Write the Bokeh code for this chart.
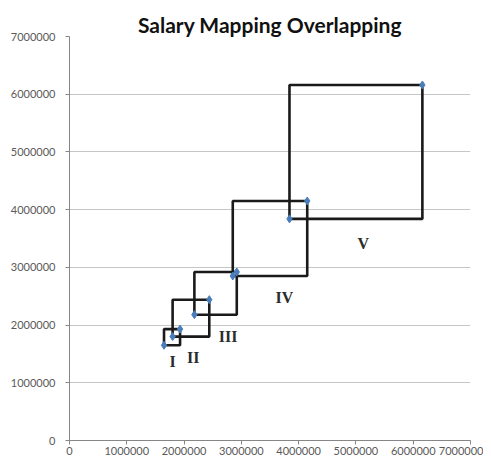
from bokeh.plotting import figure
from bokeh.models import ColumnDataSource, FixedTicker, BasicTickFormatter, Range1d
from bokeh.core.properties import value
from bokeh.embed import file_html
from bokeh.resources import INLINE

grades = ["I", "II", "III", "IV", "V"]
grade_min = [1650000, 1800000, 2180000, 2850000, 3840000]
grade_max = [1930000, 2440000, 2920000, 4150000, 6160000]
label_x = [1800000, 2160000, 2770000, 3750000, 5130000]
label_y = [1370000, 1440000, 1810000, 2470000, 3410000]
ticks = [0, 1000000, 2000000, 3000000, 4000000, 5000000, 6000000, 7000000]

p = figure(width=483, height=457, output_backend="svg", toolbar_location=None,
           x_range=Range1d(0, 7000000), y_range=Range1d(0, 7000000),
           min_border_left=69, min_border_right=13, min_border_top=36, min_border_bottom=15,
           title="Salary Mapping Overlapping")
p.title.align = "center"
p.title.text_font = "Lato"
p.title.text_font_size = "21px"
p.title.text_color = "#111111"
p.title.text_font_style = "bold"
p.title.standoff = 0
p.title.offset = 0

p.outline_line_color = None
p.background_fill_color = "white"
p.border_fill_color = "white"

for ax in (p.xaxis, p.yaxis):
    ax.ticker = FixedTicker(ticks=ticks)
    ax.formatter = BasicTickFormatter(use_scientific=False)
    ax.axis_line_color = "#868686"
    ax.major_tick_line_color = "#868686"
    ax.minor_tick_line_color = None
    ax.major_tick_in = 0
    ax.major_tick_out = 4
    ax.major_label_text_font = "Lato"
    ax.major_label_text_font_size = "11px"
    ax.major_label_text_color = "#595959"
p.xaxis.major_label_standoff = 2
p.yaxis.major_label_standoff = 10

p.xgrid.grid_line_color = None
p.ygrid.grid_line_color = "#c6c6c6"
p.ygrid.grid_line_width = 1

src = ColumnDataSource(dict(lo=grade_min, hi=grade_max, name=grades))
p.quad(left="lo", right="hi", bottom="lo", top="hi", source=src,
       fill_color=None, line_color="#1a1a1a", line_width=2.6)

pts_x = grade_min + grade_max
p.scatter(x=pts_x, y=pts_x, marker="diamond", size=8,
          fill_color="#4a7ebb", line_color="#4a7ebb")

p.text(x=label_x, y=label_y, text=grades, text_font=value("Liberation Serif"),
       text_font_size="16px", text_font_style="bold", text_color="#2b2b2b",
       text_align="center", text_baseline="middle")

open("out.html", "w").write(file_html(p, INLINE))
